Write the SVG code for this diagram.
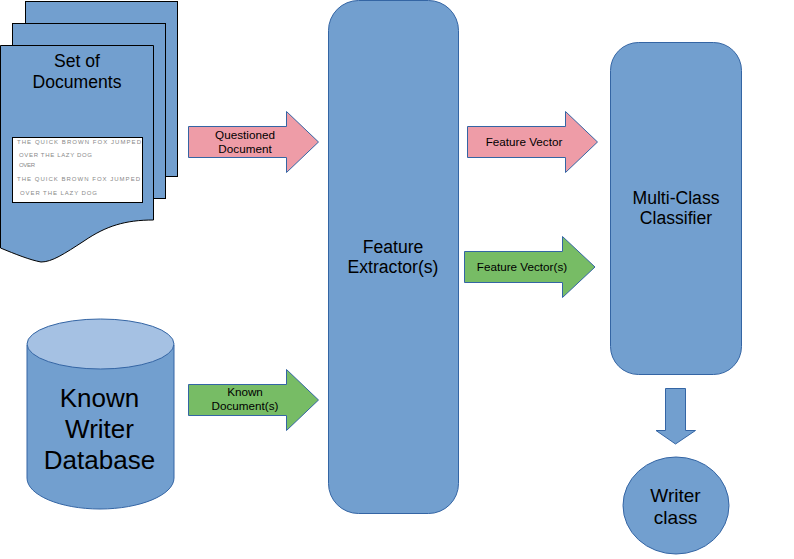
<svg xmlns="http://www.w3.org/2000/svg" width="794" height="559" viewBox="0 0 794 559">
<style>
text{font-family:"Liberation Sans",Arial,sans-serif;fill:#000;text-anchor:middle}
.blue{fill:#729fcf;stroke:#3465a4;stroke-width:1}
.page{fill:#729fcf;stroke:#000;stroke-width:1}
.red{fill:#ee9ca7;stroke:#3465a4;stroke-width:1}
.green{fill:#77bc65;stroke:#3465a4;stroke-width:1}
.l18{font-size:17.600px}
.l19{font-size:19px}
.l12{font-size:11.700px}
.l28{font-size:26px}
.l17{font-size:17.600px}
.hw{font-size:6px;fill:#888;text-anchor:start}
</style>
<rect width="794" height="559" fill="#fff"/>
<g id="documents">
<rect class="page" x="25.500" y="1.500" width="152" height="175"/>
<rect class="page" x="12.500" y="23.500" width="153" height="175"/>
<path class="page" d="M0.500 45.500H153.500V220C125 220 106 226 84 241C64 254 52 262 41 262C30 260 15 254 0.500 248Z"/>
<text class="l18" x="77" y="67">Set of</text>
<text class="l18" x="77" y="88">Documents</text>
<rect x="12.500" y="137.500" width="130" height="65" fill="#fff" stroke="#000"/>
<text class="hw" x="17" y="144" textLength="124" lengthAdjust="spacing">THE QUICK BROWN FOX JUMPED</text>
<text class="hw" x="19" y="157" textLength="73" lengthAdjust="spacing">OVER THE LAZY DOG</text>
<text class="hw" x="19" y="167" textLength="16" lengthAdjust="spacing">OVER</text>
<text class="hw" x="17" y="181" textLength="123" lengthAdjust="spacing">THE QUICK BROWN FOX JUMPED</text>
<text class="hw" x="20" y="195" textLength="77" lengthAdjust="spacing">OVER THE LAZY DOG</text>
</g>
<g id="database">
<path class="blue" d="M27 345V478C27 495 60 509 100 509S174 495 174 478V345Z"/>
<ellipse cx="100.500" cy="344" rx="73.500" ry="25" fill="#a5c1e3" stroke="#3465a4"/>
<text class="l28" x="99.500" y="407">Known</text>
<text class="l28" x="99.500" y="438">Writer</text>
<text class="l28" x="99.500" y="469">Database</text>
</g>
<g id="extractor">
<rect class="blue" x="328.500" y="0.500" width="130" height="513" rx="30" ry="30"/>
<text class="l17" x="393" y="253">Feature</text>
<text class="l17" x="393" y="273">Extractor(s)</text>
</g>
<g id="classifier">
<rect class="blue" x="610.500" y="42.500" width="131" height="332" rx="28" ry="28"/>
<text class="l17" x="676" y="204">Multi-Class</text>
<text class="l17" x="676" y="224">Classifier</text>
</g>
<g id="writer-class">
<ellipse class="blue" cx="676" cy="505.500" rx="53" ry="48.500"/>
<text class="l19" x="675.500" y="502">Writer</text>
<text class="l19" x="675.500" y="524">class</text>
</g>
<g id="connectors">
<g id="arrow-questioned">
<path class="red" d="M188.500 126.500H286.500V111.500L318.500 142L286.500 172.500V157.500H188.500Z"/>
<text class="l12" x="245" y="139">Questioned</text>
<text class="l12" x="245" y="153">Document</text>
</g>
<g id="arrow-known">
<path class="green" d="M188.500 384.500H286.500V369.500L318.500 400L286.500 430.500V415.500H188.500Z"/>
<text class="l12" x="245" y="396">Known</text>
<text class="l12" x="245" y="410">Document(s)</text>
</g>
<g id="arrow-vector-1">
<path class="red" d="M467.500 126.500H565.500V111.500L597.500 142L565.500 172.500V157.500H467.500Z"/>
<text class="l12" x="524" y="146">Feature Vector</text>
</g>
<g id="arrow-vector-2">
<path class="green" d="M464.500 251.500H562.500V236.500L595 267L562.500 297.500V282.500H464.500Z"/>
<text class="l12" x="522" y="271">Feature Vector(s)</text>
</g>
<path id="arrow-output" class="blue" d="M665.500 388.500H685.500V430.500H695.500L675.500 444L656 430.500H665.500Z"/>
</g>
</svg>
